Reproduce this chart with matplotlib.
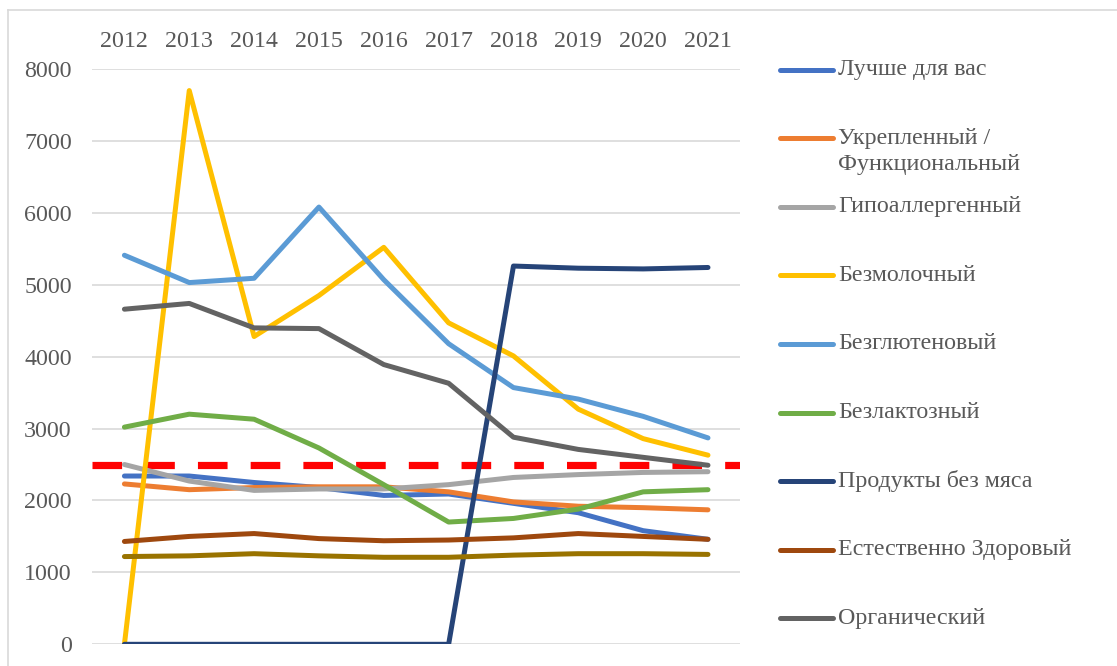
import matplotlib.pyplot as plt
from matplotlib.lines import Line2D

years = ['2012', '2013', '2014', '2015', '2016', '2017', '2018', '2019', '2020', '2021']

better_for_you = [2340, 2340, 2250, 2180, 2070, 2090, 1960, 1830, 1580, 1460]
fortified = [2230, 2150, 2180, 2190, 2190, 2120, 1980, 1920, 1900, 1870]
hypoallergenic = [2500, 2270, 2140, 2160, 2160, 2220, 2320, 2360, 2390, 2400]
dairy_free = [0, 7700, 4280, 4850, 5520, 4470, 4010, 3270, 2860, 2630]
gluten_free = [5410, 5030, 5090, 6080, 5070, 4180, 3570, 3410, 3170, 2870]
lactose_free = [3020, 3200, 3130, 2730, 2220, 1700, 1750, 1880, 2120, 2150]
meat_free = [0, 0, 0, 0, 0, 0, 5260, 5230, 5220, 5240]
naturally_healthy = [1430, 1500, 1540, 1470, 1440, 1450, 1480, 1540, 1500, 1460]
organic = [4660, 4740, 4400, 4390, 3890, 3630, 2880, 2710, 2600, 2490]
other = [1220, 1230, 1260, 1230, 1210, 1210, 1240, 1260, 1260, 1250]
threshold = 2500

series = [
    ('Лучше для вас', better_for_you, '#4472C4'),
    ('Укрепленный /\nФункциональный', fortified, '#ED7D31'),
    ('Гипоаллергенный', hypoallergenic, '#A5A5A5'),
    ('Безмолочный', dairy_free, '#FFC000'),
    ('Безглютеновый', gluten_free, '#5B9BD5'),
    ('Безлактозный', lactose_free, '#70AD47'),
    ('Продукты без мяса', meat_free, '#264478'),
    ('Естественно Здоровый', naturally_healthy, '#9E480E'),
    ('Органический', organic, '#636363'),
    (None, other, '#997300'),
]

plt.rcParams['font.family'] = ['Liberation Serif', 'DejaVu Serif']
text_color = '#595959'
fsize = 17.3

W, H = 1117, 666
fig = plt.figure(figsize=(W / 100, H / 100), dpi=100)
ax = fig.add_axes([92 / W, 1 - 644.3 / H, 648.4 / W, 575.3 / H])

x = list(range(len(years)))
ax.axhline(threshold, color='#FF0000', lw=5.2, ls=(0, (4.1, 3.2)), zorder=1.5)
for i, (name, vals, col) in enumerate(series):
    ax.plot(x, vals, color=col, lw=3.6, solid_capstyle='round',
            solid_joinstyle='round', zorder=2 + i * 0.01)

ax.set_xlim(-0.5, 9.5)
ax.set_ylim(0, 8000)
ax.set_yticks(range(0, 8001, 1000))
ax.set_xticks(x)
ax.set_xticklabels(years)
ax.xaxis.tick_top()
ax.tick_params(axis='both', length=0, labelsize=fsize, labelcolor=text_color)
ax.tick_params(axis='x', pad=12)
ax.tick_params(axis='y', pad=14.5)
ax.grid(axis='y', color='#D9D9D9', lw=1.2)
ax.set_axisbelow(True)
for s in ax.spines.values():
    s.set_visible(False)

# legend drawn by hand, Excel style
for i, (name, vals, col) in enumerate(series):
    if name is None:
        continue
    y = 1 - (69.5 + i * 68.6) / H
    fig.add_artist(Line2D([780 / W, 833 / W], [y, y], color=col, lw=3.6,
                          solid_capstyle='round'))
    for j, part in enumerate(name.split('\n')):
        fig.text(838 / W, y - j * 26 / H, part, fontsize=fsize, color=text_color,
                 va='center', ha='left')

# chart area border
fig.add_artist(Line2D([8 / W, 8 / W], [0, 1 - 10 / H], color='#D9D9D9', lw=1.2))
fig.add_artist(Line2D([8 / W, 1], [1 - 10 / H, 1 - 10 / H], color='#D9D9D9', lw=1.2))

fig.savefig('out.png', dpi=100)
